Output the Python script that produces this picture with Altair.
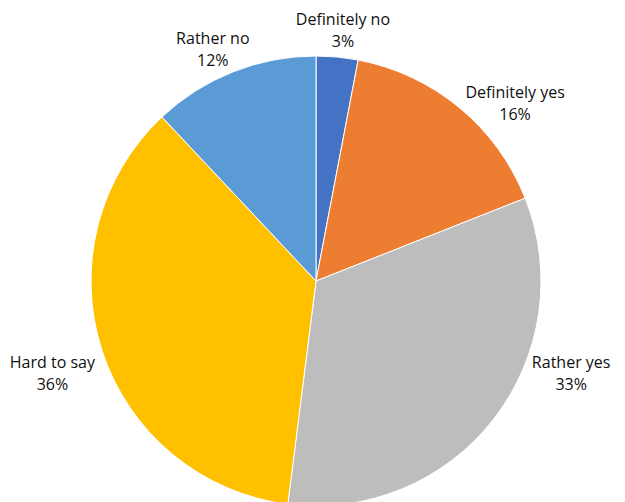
import altair as alt
import pandas as pd

categories = ["Definitely no", "Definitely yes", "Rather yes", "Hard to say", "Rather no"]
shares = [3, 16, 33, 36, 12]
colors = ["#4472C4", "#ED7D31", "#BDBDBD", "#FFC000", "#5B9BD5"]

# label layout (angle in degrees clockwise from 12 o'clock, distance from centre in px)
label_angle = [5.9, 46.6, 107.8, 252.75, 336.9]
label_dist = [262, 274, 268, 276, 263]

df = pd.DataFrame({
    "cat": categories,
    "share": shares,
    "order": list(range(len(categories))),
    "label": [f"{c}\n{v}%" for c, v in zip(categories, shares)],
    "ang": label_angle,
    "dist": label_dist,
})

cx, cy, R = 316, 281, 225

pie = alt.Chart(df).mark_arc(radius=R, stroke="white", strokeWidth=1).encode(
    theta=alt.Theta("share:Q", stack=True),
    order=alt.Order("order:Q"),
    color=alt.Color("cat:N", scale=alt.Scale(domain=categories, range=colors), legend=None),
    x=alt.value(cx),
    y=alt.value(cy),
)

labels = alt.Chart(df).mark_text(
    font="Open Sans", fontSize=16, color="#111111", lineBreak="\n",
    lineHeight=22, align="center", baseline="middle",
).encode(
    theta=alt.Theta("ang:Q", scale=alt.Scale(domain=[0, 360], range=[0, 6.283185307]), stack=False),
    radius=alt.Radius("dist:Q", scale=None),
    text="label:N",
    x=alt.value(cx),
    y=alt.value(cy),
)

chart = alt.layer(pie, labels).resolve_scale(theta="independent").properties(
    width=625, height=502, padding=0,
    autosize=alt.AutoSizeParams(type="none"),
).configure_view(stroke=None)

chart.save("out.html", embed_options={"renderer": "svg", "actions": False})
